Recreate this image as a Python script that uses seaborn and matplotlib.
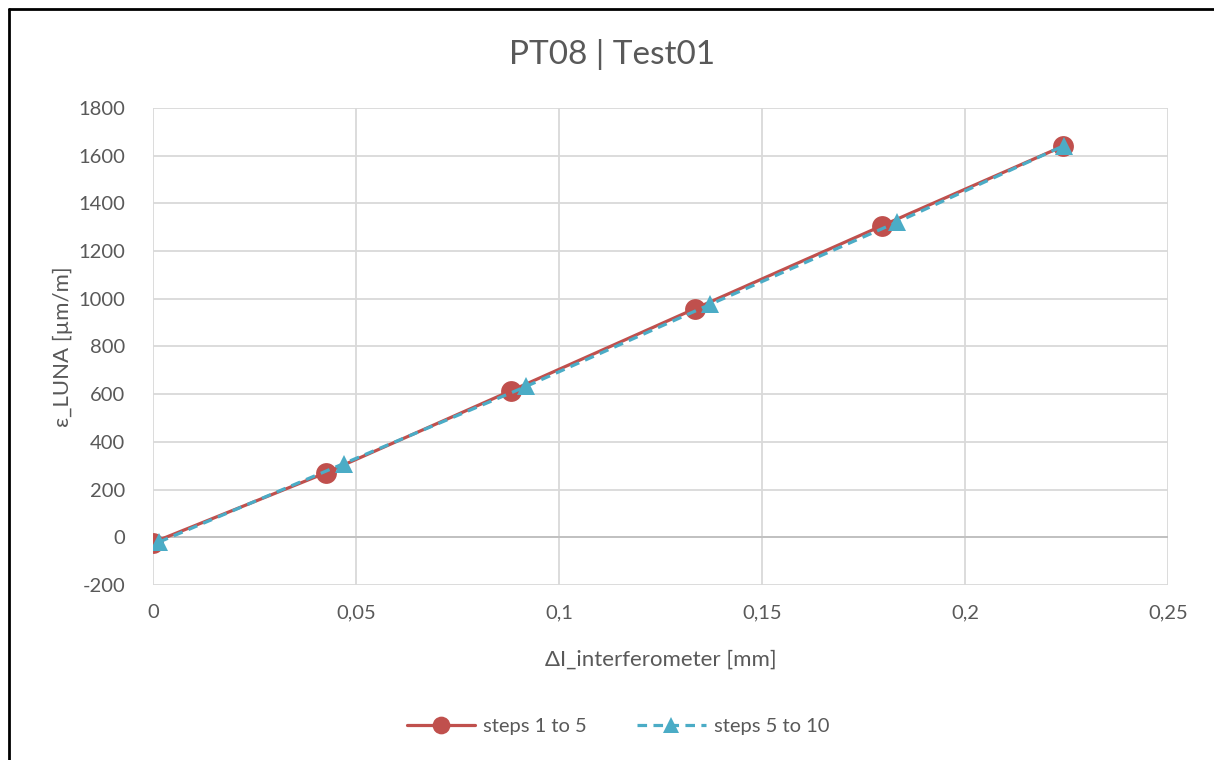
import numpy as np
import pandas as pd
import matplotlib
matplotlib.use("Agg")
import matplotlib.pyplot as plt
import seaborn as sns
from matplotlib.lines import Line2D

# data
x_steps_1_5 = [0.0, 0.0427, 0.0883, 0.1336, 0.1797, 0.2242]
y_steps_1_5 = [-22, 271, 615, 959, 1307, 1640]
x_steps_5_10 = [0.0015, 0.0470, 0.0920, 0.1372, 0.1834, 0.2244]
y_steps_5_10 = [-20, 309, 633, 976, 1322, 1642]

x_ticks = [0, 0.05, 0.1, 0.15, 0.2, 0.25]
x_tick_labels = ["0", "0,05", "0,1", "0,15", "0,2", "0,25"]
y_ticks = list(range(-200, 2000, 200))

sns.set_style("white")
plt.rcParams['font.family'] = ['Lato', 'DejaVu Sans']
plt.rcParams['axes.unicode_minus'] = False

text_col = "#595959"
grid_col = "#D9D9D9"
red = "#C0504D"
blue = "#4BACC6"

fig = plt.figure(figsize=(12.14, 7.6), dpi=100)
ax = fig.add_axes([0.126, 0.2303, 0.836, 0.6277])

df1 = pd.DataFrame({"x": x_steps_1_5, "y": y_steps_1_5})
df2 = pd.DataFrame({"x": x_steps_5_10, "y": y_steps_5_10})

sns.lineplot(data=df1, x="x", y="y", ax=ax, color=red, lw=2.3, marker="o",
             markersize=15, markeredgewidth=0, sort=False, label="steps 1 to 5", zorder=3)
sns.lineplot(data=df2, x="x", y="y", ax=ax, color=blue, lw=2.3, marker="^",
             markersize=13.5, markeredgewidth=0, sort=False, label="steps 5 to 10",
             linestyle=(0, (3, 2)), zorder=4)

ax.set_xlim(0, 0.25)
ax.set_ylim(-200, 1800)
ax.set_xticks(x_ticks)
ax.set_xticklabels(x_tick_labels)
ax.set_yticks(y_ticks)
ax.grid(True, color=grid_col, lw=1.3)
ax.axhline(0, color="#BFBFBF", lw=1.3, zorder=1)
for s in ax.spines.values():
    s.set_visible(False)
ax.tick_params(axis="x", length=0, labelsize=14.5, labelcolor=text_col, pad=14)
ax.tick_params(axis="y", length=0, labelsize=14.5, labelcolor=text_col, pad=20)

ax.set_xlabel("ΔI_interferometer [mm]", fontsize=16, color=text_col, labelpad=20)
ax.set_ylabel("ε_LUNA [µm/m]", fontsize=16, color=text_col, labelpad=4)
# title is centred on the whole chart area, not on the axes
fig.text(0.504, 0.928, "PT08 | Test01", fontsize=24, color=text_col, ha="center", va="center")

leg = ax.legend(loc="center", ncol=2, frameon=False, fontsize=14.5, handlelength=3.4,
                columnspacing=2.5, handletextpad=0.4, markerscale=0.85)
for t in leg.get_texts():
    t.set_color(text_col)
leg.set_bbox_to_anchor((0.509, 0.044), transform=fig.transFigure)

# frame of the chart area (left and top edges)
fig.add_artist(Line2D([0.0075, 0.0075], [0, 0.988], transform=fig.transFigure, color="black", lw=2))
fig.add_artist(Line2D([0.0075, 1.0], [0.988, 0.988], transform=fig.transFigure, color="black", lw=2))

fig.savefig("out.png", dpi=100)
